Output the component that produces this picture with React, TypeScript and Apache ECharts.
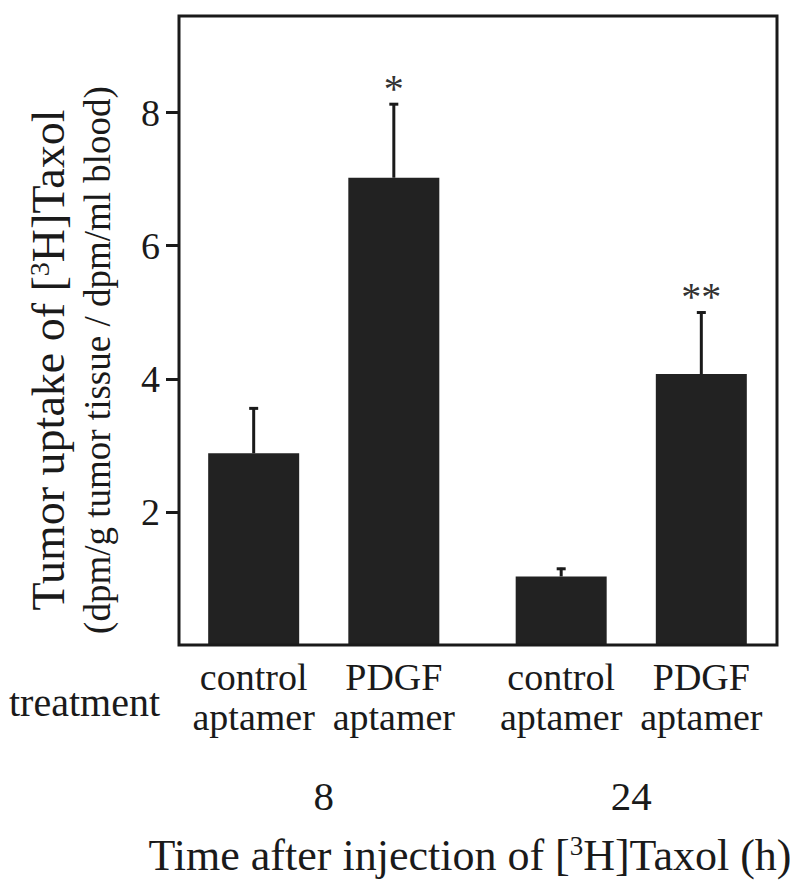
import React, { useEffect, useRef } from "react";
import * as echarts from "echarts";

const categories = ["8", "24"];
const controlMeans = [2.88, 1.03];
const controlErr = [0.69, 0.13];
const pdgfMeans = [7.02, 4.07];
const pdgfErr = [1.12, 0.94];
const controlMarks = ["", ""];
const pdgfMarks = ["*", "**"];
const yTicks = [2, 4, 6, 8];
const controlLabel = "control\naptamer";
const pdgfLabel = "PDGF\naptamer";
const yTitle1 = "{a|Tumor uptake of [}{s|3}{a|H]Taxol}";
const yTitle2 = "(dpm/g tumor tissue / dpm/ml blood)";
const xTitle = "{a|Time after injection of [}{s|3}{a|H]Taxol (h)}";
const rowTitle = "treatment";

const FONT = "'Liberation Serif', 'Times New Roman', serif";
const INK = "#1a1a1a";
const BAR_W = 91;
const BAR_GAP = 0.54;

// frame of the plotting box (layout only)
const FRAME = { left: 179, top: 16, right: 777, bottom: 645 };

export default function App() {
  const ref = useRef<HTMLDivElement>(null);
  useEffect(() => {
    if (!ref.current) return;
    const chart = echarts.init(ref.current, undefined, { renderer: "svg" });
    const shift = (BAR_W + BAR_W * BAR_GAP) / 2;
    const gridLeft = 170;
    const gridRight = 5;

    const errSeries = (means: number[], errs: number[], marks: string[], dir: number, name: string) => ({
      type: "custom",
      name,
      z: 5,
      data: means.map((m, i) => [i, m, errs[i]]),
      renderItem: (params: any, api: any) => {
        const i = api.value(0);
        const m = api.value(1);
        const e = api.value(2);
        const mark = marks[i];
        const p0 = api.coord([i, m]);
        const p1 = api.coord([i, m + e]);
        const x = p0[0] + dir * shift;
        const children: any[] = [
          {
            type: "line",
            shape: { x1: x, y1: p0[1], x2: x, y2: p1[1] },
            style: { stroke: INK, lineWidth: 3 },
          },
          {
            type: "line",
            shape: { x1: x - 4.5, y1: p1[1] + 1, x2: x + 4.5, y2: p1[1] + 1 },
            style: { stroke: INK, lineWidth: 3 },
          },
        ];
        if (mark) {
          children.push({
            type: "text",
            x,
            y: p1[1] + 5,
            style: {
              text: mark,
              fill: "#333",
              font: `40px ${FONT}`,
              align: "center",
              verticalAlign: "bottom",
            },
          });
        }
        return { type: "group", children };
      },
    });

    const barLabel = (txt: string) => ({
      show: true,
      position: "bottom",
      distance: 12,
      formatter: () => txt,
      color: INK,
      fontFamily: FONT,
      fontSize: 38,
      lineHeight: 40,
    });

    chart.setOption({
      animation: false,
      backgroundColor: "#fff",
      grid: {
        left: gridLeft,
        right: gridRight,
        top: FRAME.top,
        bottom: 887 - FRAME.bottom,
        show: false,
        containLabel: false,
      },
      xAxis: {
        type: "category",
        data: categories,
        axisLine: { show: false },
        axisTick: { show: false },
        axisLabel: {
          margin: 130,
          color: INK,
          fontFamily: FONT,
          fontSize: 41,
        },
      },
      yAxis: {
        type: "value",
        min: 0,
        max: 9.45,
        interval: 2,
        offset: gridLeft - FRAME.left,
        splitLine: { show: false },
        axisLine: { show: false },
        axisTick: {
          show: true,
          inside: false,
          length: 13,
          lineStyle: { color: INK, width: 3 },
          customValues: yTicks,
        },
        axisLabel: {
          margin: 19,
          color: INK,
          fontFamily: FONT,
          fontSize: 38,
          customValues: yTicks,
        },
      },
      series: [
        {
          type: "bar",
          name: "control aptamer",
          data: controlMeans,
          barWidth: BAR_W,
          barGap: `${BAR_GAP * 100}%`,
          itemStyle: { color: "#222" },
          label: barLabel(controlLabel),
        },
        {
          type: "bar",
          name: "PDGF aptamer",
          data: pdgfMeans,
          barWidth: BAR_W,
          barGap: `${BAR_GAP * 100}%`,
          itemStyle: { color: "#222" },
          label: barLabel(pdgfLabel),
        },
        errSeries(controlMeans, controlErr, controlMarks, -1, "control err"),
        errSeries(pdgfMeans, pdgfErr, pdgfMarks, 1, "pdgf err"),
      ],
      graphic: [
        {
          type: "rect",
          z: 10,
          shape: {
            x: FRAME.left,
            y: FRAME.top,
            width: FRAME.right - FRAME.left,
            height: FRAME.bottom - FRAME.top,
          },
          style: { fill: "none", stroke: INK, lineWidth: 3 },
          silent: true,
        },
        {
          type: "text",
          left: 9,
          top: 682,
          style: {
            text: rowTitle,
            fill: INK,
            font: `40px ${FONT}`,
          },
        },
        {
          type: "text",
          x: 48,
          y: 360,
          rotation: Math.PI / 2,
          style: {
            text: yTitle1,
            align: "center",
            verticalAlign: "middle",
            fill: INK,
            font: `46px ${FONT}`,
            rich: {
              a: { fontFamily: FONT, fontSize: 46, fill: INK, lineHeight: 50 },
              s: { fontFamily: FONT, fontSize: 28, fill: INK, lineHeight: 50, padding: [0, 0, 18, 0] },
            },
          },
        },
        {
          type: "text",
          x: 97,
          y: 360,
          rotation: Math.PI / 2,
          style: {
            text: yTitle2,
            align: "center",
            verticalAlign: "middle",
            fill: INK,
            font: `37px ${FONT}`,
          },
        },
        {
          type: "text",
          x: 470,
          y: 855,
          style: {
            text: xTitle,
            align: "center",
            verticalAlign: "middle",
            fill: INK,
            font: `44px ${FONT}`,
            rich: {
              a: { fontFamily: FONT, fontSize: 44, fill: INK, lineHeight: 48 },
              s: { fontFamily: FONT, fontSize: 27, fill: INK, lineHeight: 48, padding: [0, 0, 18, 0] },
            },
          },
        },
      ],
    });
    return () => chart.dispose();
  }, []);
  return (
    <div
      ref={ref}
      style={{ position: "absolute", left: 0, top: 0, width: 790, height: 887 }}
    />
  );
}
